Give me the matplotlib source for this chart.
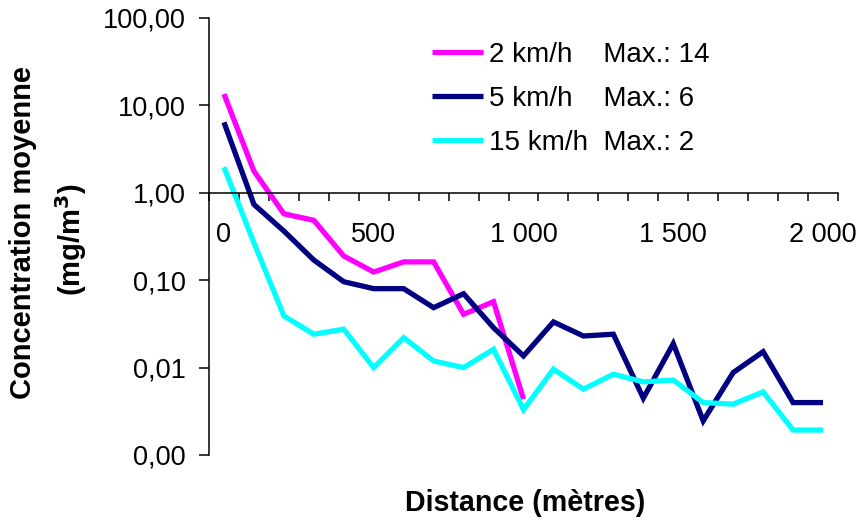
import numpy as np
import matplotlib.pyplot as plt
from matplotlib.ticker import NullLocator

plt.rcParams['font.family'] = ['Liberation Sans', 'DejaVu Sans']

# Données (concentration moyenne, mg/m3)
distance = list(range(0, 2001, 100))
c_2kmh = [13.5, 1.77, 0.575, 0.484, 0.189, 0.124, 0.162, 0.162, 0.0407, 0.0568, 0.00436]
c_5kmh = [6.4, 0.736, 0.365, 0.17, 0.096, 0.08, 0.08, 0.0485, 0.070, 0.0286, 0.0136,
          0.0333, 0.023, 0.0241, 0.00447, 0.0188, 0.00246, 0.00877, 0.0152, 0.00398, 0.00398]
c_15kmh = [1.96, 0.268, 0.039, 0.0241, 0.0275, 0.0100, 0.022, 0.0119, 0.0100, 0.0162, 0.00330,
           0.0096, 0.00566, 0.0084, 0.00687, 0.0072, 0.00398, 0.00382, 0.00527, 0.00193, 0.00193]

labels = ["2 km/h    Max.: 14", "5 km/h    Max.: 6", "15 km/h  Max.: 2"]
colors = ["#FF00FF", "#000080", "#00FFFF"]

yticks = [0.001, 0.01, 0.1, 1, 10, 100]
ytick_labels = ["0,00", "0,01", "0,10", "1,00", "10,00", "100,00"]
xticks = [0, 500, 1000, 1500, 2000]
xtick_labels = ["0", "500", "1 000", "1 500", "2 000"]

fs = 19.5

fig = plt.figure(figsize=(8.63, 5.24), dpi=100)
ax = fig.add_axes([209 / 863, 1 - 455 / 524, (838 - 209) / 863, (455 - 18) / 524])

series = [c_2kmh, c_5kmh, c_15kmh]
for vals, lab, col in zip(series, labels, colors):
    ax.plot(distance[:len(vals)], vals, color=col, lw=3.8, label=lab,
            solid_joinstyle='miter', solid_capstyle='butt')

ax.set_yscale('log')
ax.set_ylim(0.001, 100)
ax.set_xlim(-50, 2050)
ax.set_yticks(yticks)
ax.set_yticklabels(ytick_labels)
ax.yaxis.set_minor_locator(NullLocator())

ax.set_xticks(xticks)
ax.set_xticklabels(xtick_labels)
ax.set_xticks(np.arange(-50, 2051, 100), minor=True)

for s in ['top', 'right']:
    ax.spines[s].set_visible(False)
ax.spines['bottom'].set_position(('data', 1))
ax.spines['bottom'].set_linewidth(1.1)
ax.spines['left'].set_linewidth(1.1)

ax.tick_params(axis='y', which='major', length=7, width=1.1, pad=10, labelsize=fs)
ax.tick_params(axis='x', which='major', length=0, pad=21, labelsize=fs)
ax.tick_params(axis='x', which='minor', length=6, width=1.1)

leg = ax.legend(loc='upper left', bbox_to_anchor=(432 / 863, 1 - 42 / 524),
                bbox_transform=fig.transFigure, frameon=False, fontsize=20,
                handlelength=1.85, handletextpad=0.2, labelspacing=0.64,
                borderpad=0, borderaxespad=0)

fig.text(525 / 863, 1 - 503 / 524, "Distance (mètres)", ha='center', va='center',
         fontsize=20.6, fontweight='bold')
fig.text(23 / 863, 1 - 232 / 524, "Concentration moyenne", ha='center', va='center',
         rotation=90, fontsize=21, fontweight='bold')
fig.text(71 / 863, 1 - 240 / 524, "(mg/m$^{\\mathbf{3}}$)", ha='center', va='center',
         rotation=90, fontsize=21, fontweight='bold')

fig.savefig("out.png", dpi=100)
